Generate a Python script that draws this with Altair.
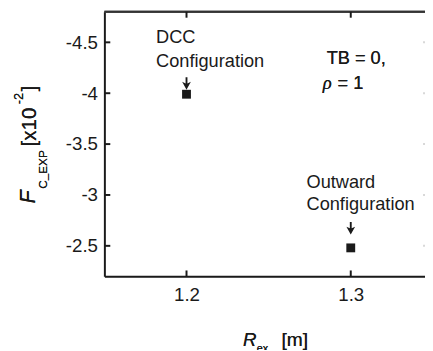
import altair as alt
import pandas as pd

# ---- data ----
r_ex = [1.2, 1.3]
f_exp = [-3.99, -2.48]
config_labels = ["DCC\nConfiguration", "Outward\nConfiguration"]
x_ticks = [1.2, 1.3]
y_ticks = [-4.5, -4.0, -3.5, -3.0, -2.5]

W, H = 326, 269
FONT = "Liberation Sans"
INK = "#1a1a1a"

df = pd.DataFrame({"x": r_ex, "y": f_exp, "label": config_labels})
dfx = pd.DataFrame({"x": x_ticks})
dfy = pd.DataFrame({"y": y_ticks})

xs = alt.Scale(domain=[1.15, 1.3452], nice=False, zero=False)
ys = alt.Scale(domain=[-4.8, -2.2], nice=False, zero=False, reverse=True)

x_axis = alt.Axis(values=x_ticks, labelExpr="datum.value + ''", ticks=False, tickSize=0,
                  grid=False, domainColor=INK, domainWidth=2, labelFont=FONT,
                  labelFontSize=19, labelColor=INK, labelPadding=10, title=None)
y_axis = alt.Axis(values=y_ticks, labelExpr="datum.value + ''", ticks=False, tickSize=0,
                  grid=False, domainColor=INK, domainWidth=2, labelFont=FONT,
                  labelFontSize=19, labelColor=INK, labelPadding=7, title=None)

xe = alt.X("x:Q", scale=xs, axis=x_axis)
ye = alt.Y("y:Q", scale=ys, axis=y_axis)

pts = alt.Chart(df).mark_square(size=81, color=INK, opacity=1).encode(x=xe, y=ye)

arrow_shape = "M-0.15,-1 L0.15,-1 L0.15,0 L0.7,-0.25 L0,1 L-0.7,-0.25 L-0.15,0 Z"

ann_dcc = alt.Chart(df).transform_filter(alt.datum.label == config_labels[0]).mark_text(
    align="left", baseline="alphabetic", dx=-31, dy=-52, lineBreak="\n", lineHeight=24,
    font=FONT, fontSize=18.5, color=INK).encode(x=xe, y=ye, text="label:N")
arr_dcc = alt.Chart(df).transform_filter(alt.datum.label == config_labels[0]).mark_point(
    shape=arrow_shape, size=160, filled=True, color=INK, opacity=1).encode(
    x=xe, y=ye, yOffset=alt.value(-11))

ann_out = alt.Chart(df).transform_filter(alt.datum.label == config_labels[1]).mark_text(
    align="left", baseline="alphabetic", dx=-45, dy=-61, lineBreak="\n", lineHeight=22,
    font=FONT, fontSize=18.5, color=INK).encode(x=xe, y=ye, text="label:N")
arr_out = alt.Chart(df).transform_filter(alt.datum.label == config_labels[1]).mark_point(
    shape=arrow_shape, size=160, filled=True, color=INK, opacity=1).encode(
    x=xe, y=ye, yOffset=alt.value(-20))

# inward ticks
xt_bot = alt.Chart(dfx).mark_rule(color=INK, strokeWidth=2).encode(
    x=xe, y=alt.value(H), y2=alt.value(H - 6))
xt_top = alt.Chart(dfx).mark_rule(color=INK, strokeWidth=2).encode(
    x=xe, y=alt.value(0), y2=alt.value(6))
yt_left = alt.Chart(dfy).mark_rule(color=INK, strokeWidth=2).encode(
    y=ye, x=alt.value(0), x2=alt.value(6))
yt_right = alt.Chart(dfy).mark_rule(color="#d8d8d8", strokeWidth=2).encode(
    y=ye, x=alt.value(W - 2), x2=alt.value(W))
top_line = alt.Chart(dfx).mark_rule(color="#333", strokeWidth=2).encode(
    x=alt.value(0), x2=alt.value(W), y=alt.value(0))

def txt(s, x, y, size, italic=False, angle=0, font=FONT):
    return alt.Chart(dfx).mark_text(
        text=s, align="left", baseline="alphabetic", font=font, fontSize=size,
        fontStyle="italic" if italic else "normal", angle=angle, color=INK
    ).encode(x=alt.value(x), y=alt.value(y))

# TB / rho note
note = [
    txt("TB = 0,", 226, 53, 18.5),
    txt("ρ", 222, 78, 19, italic=True, font="Liberation Serif"),
    txt("= 1", 237, 78, 18.5),
]

# y title (rotated)
ytitle = [
    txt("F", -71, 195, 22, italic=True, angle=270),
    txt("C_EXP", -58, 180, 12, angle=270),
    txt("[x10", -70, 137, 21, angle=270),
    txt("-2", -83, 94, 13, angle=270),
    txt("]", -70, 81, 21, angle=270),
]

# x title
xtitle = [
    txt("R", 141, 340, 19, italic=True),
    txt("ex", 155, 346, 11),
    txt("[m]", 180, 340, 19.5),
]

chart = alt.layer(
    top_line, xt_bot, xt_top, yt_left, yt_right, pts, arr_dcc, arr_out, ann_dcc, ann_out,
    *note, *ytitle, *xtitle
).properties(
    width=W, height=H,
    autosize=alt.AutoSizeParams(type="none"),
    padding={"left": 98, "top": 1, "right": 0, "bottom": 72},
).configure_view(stroke=None).configure(background="white")

chart.save("out.html", embed_options={"renderer": "svg", "actions": False})
